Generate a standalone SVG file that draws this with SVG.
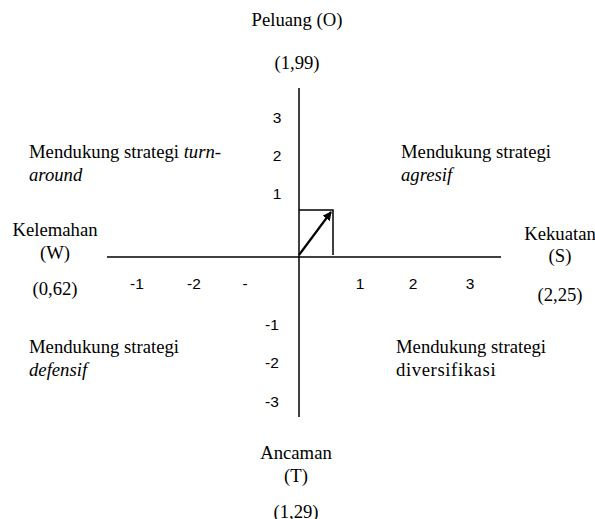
<svg xmlns="http://www.w3.org/2000/svg" width="595" height="519" viewBox="0 0 595 519">
<style>
.t{font-family:"Liberation Serif","Times New Roman",serif;font-size:18.7px;fill:#000}
.c{text-anchor:middle}
.i{font-style:italic}
.n{font-family:"Liberation Sans",Arial,sans-serif;font-size:15.5px;fill:#000;text-anchor:middle}
.ax{stroke:#000;stroke-width:1.5;fill:none}
</style>
<defs>
<marker id="ah" markerWidth="9" markerHeight="9" refX="8" refY="4.5" orient="auto" markerUnits="userSpaceOnUse">
<path d="M0,0 L9,4.5 L0,9 z" fill="#000"/>
</marker>
</defs>
<g id="connectors">
<line class="ax" x1="107" y1="257" x2="501" y2="257"/>
<line class="ax" x1="299" y1="88" x2="299" y2="417"/>
<polyline class="ax" points="299,210 333,210 333,255" stroke-width="1.2"/>
<line x1="299" y1="255" x2="331" y2="212" stroke="#000" stroke-width="2.2" marker-end="url(#ah)"/>
</g>
<g id="node-O">
<text class="t c" x="297" y="26">Peluang (O)</text>
<text class="t c" x="297" y="69">(1,99)</text>
</g>
<g id="node-T">
<text class="t c" x="296" y="459">Ancaman</text>
<text class="t c" x="296" y="482">(T)</text>
<text class="t c" x="296" y="518">(1,29)</text>
</g>
<g id="node-W">
<text class="t c" x="55" y="236">Kelemahan</text>
<text class="t c" x="55" y="259">(W)</text>
<text class="t c" x="55" y="295">(0,62)</text>
</g>
<g id="node-S">
<text class="t c" x="560" y="240">Kekuatan</text>
<text class="t c" x="560" y="262">(S)</text>
<text class="t c" x="560" y="301">(2,25)</text>
</g>
<g id="node-turnaround">
<text class="t" x="29" y="158">Mendukung strategi <tspan class="i">turn-</tspan></text>
<text class="t i" x="29" y="181">around</text>
</g>
<g id="node-agresif">
<text class="t" x="401" y="158">Mendukung strategi</text>
<text class="t i" x="401" y="181">agresif</text>
</g>
<g id="node-defensif">
<text class="t" x="29" y="353">Mendukung strategi</text>
<text class="t i" x="29" y="376">defensif</text>
</g>
<g id="node-diversifikasi">
<text class="t" x="396" y="353">Mendukung strategi</text>
<text class="t" x="396" y="376" letter-spacing="0.6">diversifikasi</text>
</g>
<g id="ticks">
<text class="n" x="277" y="123">3</text>
<text class="n" x="277" y="161">2</text>
<text class="n" x="277" y="199">1</text>
<text class="n" x="272" y="330">-1</text>
<text class="n" x="272" y="368">-2</text>
<text class="n" x="272" y="407">-3</text>
<text class="n" x="137" y="289">-1</text>
<text class="n" x="194" y="289">-2</text>
<text class="n" x="245" y="289">-</text>
<text class="n" x="360" y="289">1</text>
<text class="n" x="413" y="289">2</text>
<text class="n" x="470" y="289">3</text>
</g>
</svg>
